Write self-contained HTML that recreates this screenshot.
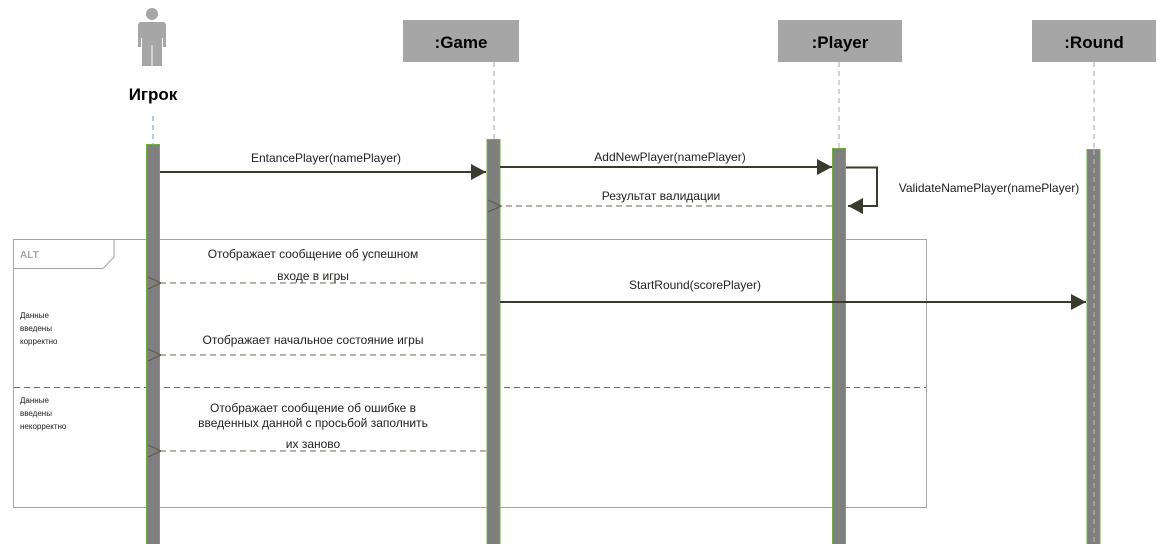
<!DOCTYPE html>
<html><head><meta charset="utf-8"><style>
body{margin:0;background:#fff;}
svg{display:block;font-family:"Liberation Sans","DejaVu Sans",sans-serif;}
</style></head><body>
<svg width="1175" height="544" viewBox="0 0 1175 544" xmlns="http://www.w3.org/2000/svg">
<defs>
<marker id="fa" markerWidth="16" markerHeight="16" refX="15" refY="8" orient="auto" markerUnits="userSpaceOnUse"><path d="M0,0 L15,8 L0,16 Z" fill="#3b3a2e"/></marker>
<marker id="oa" markerWidth="16" markerHeight="16" refX="1" refY="8" orient="auto" markerUnits="userSpaceOnUse"><path d="M14,2 L1,8 L14,14" fill="none" stroke="#5e5a45" stroke-width="1.2"/></marker>
</defs>
<!-- actor -->
<circle cx="152" cy="14" r="6" fill="#a6a6a6"/>
<path d="M141 22 h22 a3 3 0 0 1 3 3 v22 h-3 v-9 h-1 v28 h-20 v-28 h-1 v9 h-3 v-22 a3 3 0 0 1 3 -3 z" fill="#a6a6a6"/>
<line x1="152" y1="45" x2="152" y2="66" stroke="#fff" stroke-width="1"/>
<text x="153" y="100" font-size="17" font-weight="bold" text-anchor="middle">Игрок</text>
<line x1="153" y1="116" x2="153" y2="144" stroke="#5b9bd5" stroke-dasharray="5,4"/>
<!-- headers -->
<rect x="403" y="20" width="116" height="42" fill="#a6a6a6"/>
<text x="461" y="48" font-size="17" font-weight="bold" text-anchor="middle">:Game</text>
<rect x="778" y="20" width="124" height="42" fill="#a6a6a6"/>
<text x="840" y="48" font-size="17" font-weight="bold" text-anchor="middle">:Player</text>
<rect x="1032" y="20" width="124" height="42" fill="#a6a6a6"/>
<text x="1094" y="48" font-size="17" font-weight="bold" text-anchor="middle">:Round</text>
<g stroke="#a6a6a6" stroke-dasharray="5,4">
<line x1="494" y1="62" x2="494" y2="139"/>
<line x1="839" y1="62" x2="839" y2="148"/>
<line x1="1094" y1="62" x2="1094" y2="149"/>
</g>
<!-- alt frame -->
<rect x="13.5" y="239.5" width="913" height="268" fill="none" stroke="#a6a6a6"/>
<path d="M13.5 268.5 H103 L114 257 V239.5" fill="none" stroke="#a6a6a6"/>
<text x="20" y="258" font-size="10" font-weight="bold" fill="#a6a6a6">ALT</text>
<line x1="14" y1="387.5" x2="926" y2="387.5" stroke="#3a6fd0" stroke-dasharray="6,4"/>
<g font-size="8" fill="#222">
<text x="20" y="318">Данные</text><text x="20" y="331">введены</text><text x="20" y="344">корректно</text>
<text x="20" y="403">Данные</text><text x="20" y="416">введены</text><text x="20" y="429">некорректно</text>
</g>
<!-- activations -->
<g fill="#7f7f7f" stroke="#70ad47" stroke-width="1">
<rect x="146.5" y="144.5" width="13" height="400"/>
<rect x="487" y="139.5" width="13" height="405"/>
<rect x="832.5" y="148.5" width="13" height="396"/>
<rect x="1087" y="149.5" width="13" height="395"/>
</g>
<line x1="1094" y1="150" x2="1094" y2="544" stroke="#bfbfbf" stroke-dasharray="5,4"/>
<!-- messages -->
<g font-size="12" fill="#222" text-anchor="middle">
<line x1="160" y1="172" x2="486" y2="172" stroke="#3b3a2e" stroke-width="2" marker-end="url(#fa)"/>
<text x="326" y="162">EntancePlayer(namePlayer)</text>
<line x1="500" y1="167" x2="832" y2="167" stroke="#3b3a2e" stroke-width="2" marker-end="url(#fa)"/>
<text x="670" y="161">AddNewPlayer(namePlayer)</text>
<path d="M846 167.5 H877 V206 H848" fill="none" stroke="#3b3a2e" stroke-width="2" marker-end="url(#fa)"/>
<text x="989" y="192">ValidateNamePlayer(namePlayer)</text>
<line x1="832" y1="206" x2="501" y2="206" stroke="#6b6650" stroke-dasharray="6,4" marker-end="url(#oa)"/>
<text x="661" y="200">Результат валидации</text>
<line x1="486" y1="283" x2="161" y2="283" stroke="#6b6650" stroke-dasharray="6,4" marker-end="url(#oa)"/>
<text x="313" y="258">Отображает сообщение об успешном</text>
<text x="313" y="280">входе в игры</text>
<line x1="500" y1="302" x2="1086" y2="302" stroke="#3b3a2e" stroke-width="2" marker-end="url(#fa)"/>
<text x="695" y="289">StartRound(scorePlayer)</text>
<line x1="486" y1="355" x2="161" y2="355" stroke="#6b6650" stroke-dasharray="6,4" marker-end="url(#oa)"/>
<text x="313" y="344">Отображает начальное состояние игры</text>
<line x1="486" y1="451" x2="161" y2="451" stroke="#6b6650" stroke-dasharray="6,4" marker-end="url(#oa)"/>
<text x="313" y="412">Отображает сообщение об ошибке в</text>
<text x="313" y="427">введенных данной с просьбой заполнить</text>
<text x="313" y="448">их заново</text>
</g>
</svg>
</body></html>
